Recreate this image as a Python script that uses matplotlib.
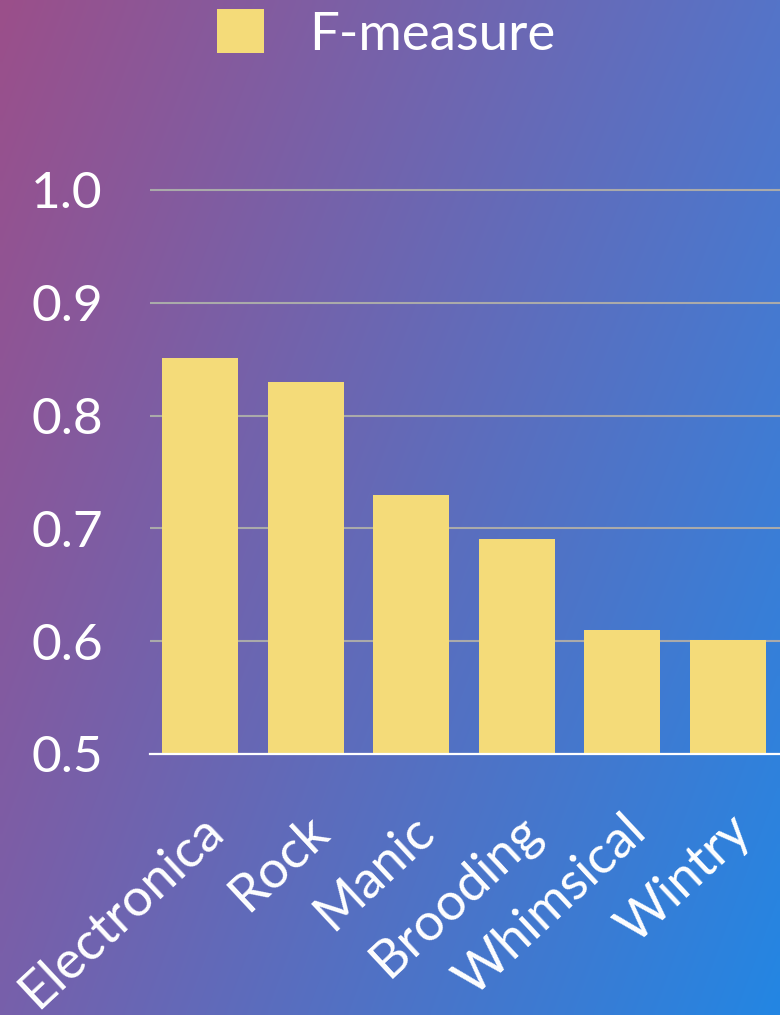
import matplotlib.pyplot as plt
from matplotlib.colors import to_rgb
import matplotlib.patches as mpatches
import numpy as np

categories = ["Electronica", "Rock", "Manic", "Brooding", "Whimsical", "Wintry"]
f_measure = [0.851, 0.830, 0.730, 0.691, 0.610, 0.601]
y_ticks = [0.5, 0.6, 0.7, 0.8, 0.9, 1.0]
y_ticklabels = ["0.5", "0.6", "0.7", "0.8", "0.9", "1.0"]

bar_color = "#f4db79"
font = ["Lato", "DejaVu Sans"]

fig = plt.figure(figsize=(7.8, 10.15), dpi=100)

# diagonal-ish background gradient from four corner colours
tl, tr = np.array(to_rgb("#9b4f8a")), np.array(to_rgb("#5574c8"))
bl, br = np.array(to_rgb("#7760ab")), np.array(to_rgb("#2386e3"))
h, w = 203, 156
u = np.linspace(0, 1, w)[None, :, None]
v = np.linspace(0, 1, h)[:, None, None]
grad = (1 - v) * ((1 - u) * tl + u * tr) + v * ((1 - u) * bl + u * br)
bg = fig.add_axes([0, 0, 1, 1], zorder=-1)
bg.imshow(grad, aspect="auto", interpolation="bilinear", extent=[0, 1, 0, 1])
bg.axis("off")

ax = fig.add_axes([150 / 780, 1 - 754 / 1015, 630 / 780, 586.6 / 1015])
ax.set_facecolor("none")

x = np.arange(len(categories))
ax.bar(x, f_measure, width=0.72, bottom=0, color=bar_color, zorder=3)
ax.set_xlim(-0.473, 5.493)
ax.set_ylim(0.5, 1.02)

ax.set_yticks(y_ticks)
ax.set_yticklabels(y_ticklabels, fontsize=37, color="white", family=font)
ax.set_xticks(x)
ax.set_xticklabels(categories, fontsize=38, color="white", family=font,
                   rotation=43, ha="right", va="top", rotation_mode="anchor")
ax.tick_params(axis="y", length=0, pad=34)
ax.tick_params(axis="x", length=0, pad=38)

ax.grid(axis="y", color="#aaaaaa", linewidth=1.5)
ax.set_axisbelow(True)
for name, spine in ax.spines.items():
    spine.set_visible(name == "bottom")
ax.spines["bottom"].set_color("white")
ax.spines["bottom"].set_linewidth(1.6)
ax.spines["bottom"].set_zorder(4)

handle = mpatches.Patch(facecolor=bar_color, edgecolor="none", label="F-measure")
leg = fig.legend(handles=[handle], loc="center", bbox_to_anchor=(0.495, 1 - 34 / 1015),
                 frameon=False, handlelength=0.9, handleheight=0.9,
                 handletextpad=0.85, prop={"family": font, "size": 38})
for t in leg.get_texts():
    t.set_color("white")

fig.savefig("out.png", dpi=100)
